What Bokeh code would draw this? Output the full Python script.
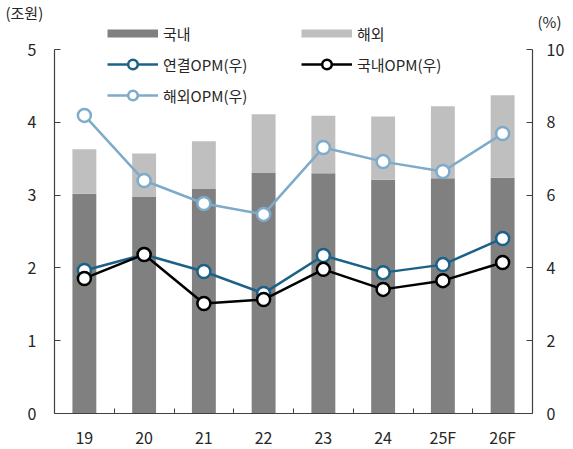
from bokeh.plotting import figure
from bokeh.models import Range1d, LinearAxis, FixedTicker, Legend, LegendItem, ColumnDataSource, Title
from bokeh.embed import file_html
from bokeh.resources import INLINE

categories = ["19", "20", "21", "22", "23", "24", "25F", "26F"]
domestic = [3.02, 2.98, 3.09, 3.31, 3.30, 3.21, 3.23, 3.24]
overseas = [0.61, 0.59, 0.65, 0.80, 0.79, 0.87, 0.99, 1.13]
opm_consol = [3.93, 4.37, 3.90, 3.30, 4.34, 3.87, 4.09, 4.81]
opm_dom = [3.71, 4.37, 3.02, 3.13, 3.96, 3.41, 3.65, 4.15]
opm_ovs = [8.19, 6.40, 5.77, 5.47, 7.31, 6.92, 6.65, 7.69]
left_ticks = [0, 1, 2, 3, 4, 5]
right_ticks = [0, 2, 4, 6, 8, 10]
unit_left = "(조원)"
unit_right = "(%)"

FONT = "Noto Sans CJK KR"
TXT = "#262626"
C_DOM = "#808080"
C_OVS = "#bfbfbf"
C_CON = "#1c6288"
C_OOPM = "#7eabc9"

# frame spans from y=24 to the x axis (y=413); the "5"/"10" ticks sit at y=49
TOP = 24
FRAME_H = 413 - TOP
PLOT_H = 364
ymax_left = left_ticks[-1] * FRAME_H / PLOT_H
ymax_right = right_ticks[-1] * FRAME_H / PLOT_H

xs = list(range(len(categories)))
total = [d + o for d, o in zip(domestic, overseas)]
src = ColumnDataSource(dict(x=xs, dom=domestic, tot=total, con=opm_consol, dopm=opm_dom, oopm=opm_ovs))

p = figure(frame_width=478, frame_height=FRAME_H, output_backend="svg", toolbar_location=None,
           x_range=Range1d(-0.5, len(categories) - 0.5), y_range=Range1d(0, ymax_left),
           min_border_left=54, min_border_right=33, min_border_top=TOP, min_border_bottom=30,
           title=unit_left)
p.extra_y_ranges = {"pct": Range1d(0, ymax_right)}
p.outline_line_color = None
p.xgrid.visible = False
p.ygrid.visible = False
p.background_fill_color = "white"

p.vbar(x="x", bottom=0, top="dom", width=0.4, source=src, fill_color=C_DOM, line_color=None)
p.vbar(x="x", bottom="dom", top="tot", width=0.4, source=src, fill_color=C_OVS, line_color=None)

def series(col, color):
    lr = p.line(x="x", y=col, source=src, line_color=color, line_width=2.5, y_range_name="pct")
    sr = p.scatter(x="x", y=col, source=src, size=13, marker="circle", line_color=color,
                   line_width=2.5, fill_color="white", y_range_name="pct")
    return [lr, sr]

r_ovs = series("oopm", C_OOPM)
r_con = series("con", C_CON)
r_dom = series("dopm", "black")

nan = float("nan")
d_dom = p.line(x=[nan], y=[nan], line_color=C_DOM, line_width=8)
d_ovs = p.line(x=[nan], y=[nan], line_color=C_OVS, line_width=8)

# axes
xa = p.xaxis[0]
xa.ticker = FixedTicker(ticks=xs, minor_ticks=[i + 0.5 for i in xs[:-1]])
xa.major_label_overrides = {i: c for i, c in zip(xs, categories)}
xa.major_tick_in = 0
xa.major_tick_out = 0
xa.minor_tick_in = 5
xa.minor_tick_out = 0
xa.major_label_standoff = 11

ya = p.yaxis[0]
ya.ticker = FixedTicker(ticks=left_ticks)
ya.bounds = (left_ticks[0], left_ticks[-1])
ya.major_tick_in = 6
ya.major_tick_out = 0
ya.major_label_standoff = 18

ra = LinearAxis(y_range_name="pct", ticker=FixedTicker(ticks=right_ticks),
                bounds=(right_ticks[0], right_ticks[-1]))
ra.major_tick_in = 6
ra.major_tick_out = 0
ra.major_label_standoff = 14
p.add_layout(ra, "right")

for ax in [xa, ya, ra]:
    ax.axis_line_color = "#404040"
    ax.major_tick_line_color = "#404040"
    ax.minor_tick_line_color = "#404040" if ax is xa else None
    ax.major_label_text_font = FONT
    ax.major_label_text_font_size = "16px"
    ax.major_label_text_color = TXT
    ax.axis_line_width = 1.2

def mklegend(items, x, y):
    lg = Legend(items=items, location=(x, y), glyph_width=51, glyph_height=24,
                spacing=7, padding=0, margin=0, label_standoff=5,
                label_text_font=FONT, label_text_font_size="15px", label_text_color=TXT,
                border_line_alpha=0, background_fill_alpha=0)
    return lg

lg1 = mklegend([LegendItem(label="국내", renderers=[d_dom]),
                LegendItem(label="연결OPM(우)", renderers=r_con),
                LegendItem(label="해외OPM(우)", renderers=r_ovs)], 53, 413 - 107)
lg2 = mklegend([LegendItem(label="해외", renderers=[d_ovs]),
                LegendItem(label="국내OPM(우)", renderers=r_dom)], 247, 413 - 76)
p.add_layout(lg1)
p.add_layout(lg2)

# unit captions: titles that take (almost) no layout height
for t in [p.title]:
    t.align = "left"
    t.offset = -49
p.add_layout(Title(text=unit_right, align="left", offset=483), "above")
for t in p.select(type=Title):
    t.text_font = FONT
    t.text_font_size = "15px"
    t.text_font_style = "normal"
    t.text_color = TXT
    t.standoff = -14

open("out.html", "w").write(file_html(p, INLINE))
